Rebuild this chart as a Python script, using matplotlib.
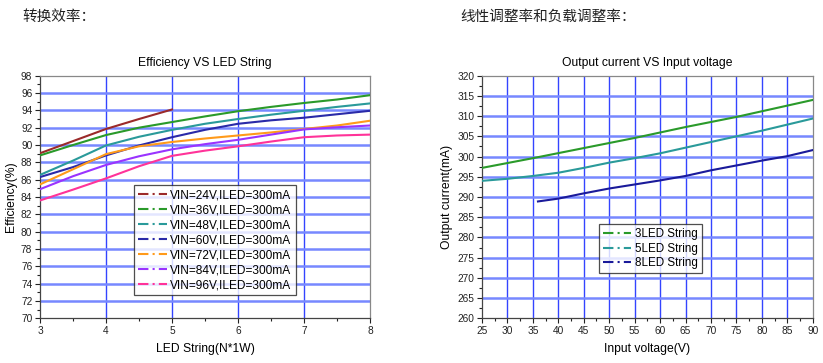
import matplotlib
matplotlib.use("Agg")
import matplotlib.pyplot as plt
from matplotlib.ticker import MultipleLocator

plt.rcParams['font.family'] = ['Liberation Sans', 'Noto Sans CJK SC', 'DejaVu Sans']

# ---- Left chart data: Efficiency vs LED string ----
led_string = [3, 3.5, 4, 4.5, 5, 5.5, 6, 6.5, 7, 7.5, 8]
eff_labels = ["VIN=24V,ILED=300mA", "VIN=36V,ILED=300mA", "VIN=48V,ILED=300mA",
              "VIN=60V,ILED=300mA", "VIN=72V,ILED=300mA", "VIN=84V,ILED=300mA",
              "VIN=96V,ILED=300mA"]
eff_24 = [89.05, 90.45, 91.85, 93.0, 94.1]
eff_36 = [88.8, 90.0, 91.15, 92.0, 92.65, 93.3, 93.9, 94.4, 94.85, 95.25, 95.75]
eff_48 = [86.55, 88.2, 89.95, 90.95, 91.75, 92.45, 93.0, 93.5, 93.95, 94.4, 94.8]
eff_60 = [86.3, 87.45, 88.8, 89.95, 90.9, 91.75, 92.45, 92.85, 93.15, 93.55, 93.95]
eff_72 = [85.45, 87.2, 88.95, 89.85, 90.35, 90.75, 91.1, 91.45, 91.85, 92.25, 92.8]
eff_84 = [84.9, 86.4, 87.7, 88.7, 89.5, 90.1, 90.6, 91.2, 91.8, 92.05, 92.25]
eff_96 = [83.6, 84.85, 86.15, 87.55, 88.75, 89.35, 89.85, 90.4, 90.9, 91.1, 91.2]
eff_colors = ["#9b2a2a", "#2a9a2a", "#2a9a9a", "#2a2aa8", "#ff9a1a", "#9a33ff", "#ff3399"]

# ---- Right chart data: Output current vs input voltage ----
vin_3 = [25, 35, 45, 55, 65, 75, 85, 90]
iout_3 = [297.2, 299.6, 302.1, 304.6, 307.3, 309.8, 312.6, 314.0]
vin_5 = [25, 30, 35, 40, 45, 50, 55, 60, 65, 70, 75, 80, 85, 90]
iout_5 = [294.0, 294.5, 295.2, 296.0, 297.2, 298.5, 299.6, 300.8, 302.2, 303.6,
          305.0, 306.4, 307.9, 309.4]
vin_8 = [36, 40, 45, 50, 55, 60, 65, 70, 75, 80, 85, 90]
iout_8 = [288.9, 289.6, 290.9, 292.1, 293.1, 294.1, 295.2, 296.6, 297.8, 299.0,
          300.1, 301.6]
cur_labels = ["3LED String", "5LED String", "8LED String"]
cur_colors = ["#2a9a2a", "#2a9a9a", "#1a1a9a"]

W, H = 823, 363
fig = plt.figure(figsize=(W / 100, H / 100), dpi=100)

def ax_rect(x0, x1, ytop, ybot):
    return [x0 / W, 1 - ybot / H, (x1 - x0) / W, (ybot - ytop) / H]

def style_axes(ax):
    for s in ax.spines.values():
        s.set_color("#444444")
        s.set_linewidth(0.9)
    ax.spines['top'].set_color("#888888")
    ax.spines['right'].set_color("#888888")
    ax.tick_params(which='both', direction='out', labelsize=7.3, colors='#222222', pad=2)
    ax.tick_params(which='major', length=3.5, width=0.8)
    ax.tick_params(which='minor', length=2, width=0.8)
    ax.grid(False)

def draw_grid(ax, xs, ys):
    for x in xs:
        ax.axvline(x, color="#3344ff", lw=1.0, zorder=0.5)
    for y in ys:
        ax.axhline(y, color="#7788ff", lw=1.8, zorder=0.5)

# Left axes
ax1 = fig.add_axes(ax_rect(40, 370, 75.7, 318.3))
draw_grid(ax1, [4, 5, 6, 7], list(range(72, 98, 2)))
series = [eff_24, eff_36, eff_48, eff_60, eff_72, eff_84, eff_96]
handles = []
for vals, c, lab in zip(series, eff_colors, eff_labels):
    ax1.plot(led_string[:len(vals)], vals, color=c, lw=1.5, zorder=3)
    h, = ax1.plot([], [], color=c, lw=1.5, ls=(0, (5, 2, 1, 2)), label=lab)
    handles.append(h)
ax1.set_xlim(3, 8)
ax1.set_ylim(70, 98)
ax1.xaxis.set_major_locator(MultipleLocator(1))
ax1.xaxis.set_minor_locator(MultipleLocator(0.5))
ax1.yaxis.set_major_locator(MultipleLocator(2))
ax1.yaxis.set_minor_locator(MultipleLocator(1))
style_axes(ax1)
ax1.set_title("Efficiency VS LED String", fontsize=8.7, pad=7)
ax1.set_xlabel("LED String(N*1W)", fontsize=8.7, labelpad=5)
ax1.set_ylabel("Efficiency(%)", fontsize=8.7, labelpad=3)
leg1 = ax1.legend(handles=handles, loc='upper left', bbox_to_anchor=((134 - 40) / 330, (318.3 - 185) / 242.6),
                  fontsize=8.6, frameon=True, fancybox=False, edgecolor='#222222',
                  handlelength=2.4, handletextpad=0.3, labelspacing=0.25,
                  borderpad=0.35, borderaxespad=0)
leg1.get_frame().set_linewidth(0.9)
leg1.set_zorder(5)

# Right axes
ax2 = fig.add_axes(ax_rect(482, 812.7, 75.7, 318.3))
draw_grid(ax2, list(range(30, 90, 5)), list(range(265, 320, 5)))
handles2 = []
for xs, ys, c, lab in zip([vin_3, vin_5, vin_8], [iout_3, iout_5, iout_8], cur_colors, cur_labels):
    ax2.plot(xs, ys, color=c, lw=1.5, zorder=3)
    h, = ax2.plot([], [], color=c, lw=1.5, ls=(0, (5, 2, 1, 2)), label=lab)
    handles2.append(h)
ax2.set_xlim(25, 90)
ax2.set_ylim(260, 320)
ax2.xaxis.set_major_locator(MultipleLocator(5))
ax2.xaxis.set_minor_locator(MultipleLocator(2.5))
ax2.yaxis.set_major_locator(MultipleLocator(5))
ax2.yaxis.set_minor_locator(MultipleLocator(2.5))
style_axes(ax2)
ax2.set_title("Output current VS Input voltage", fontsize=8.7, pad=7)
ax2.set_xlabel("Input voltage(V)", fontsize=8.7, labelpad=5)
ax2.set_ylabel("Output current(mA)", fontsize=8.7, labelpad=3)
leg2 = ax2.legend(handles=handles2, loc='upper left',
                  bbox_to_anchor=((599 - 482) / 330.7, (318.3 - 224) / 242.6),
                  fontsize=8.4, frameon=True, fancybox=False, edgecolor='#222222',
                  handlelength=2.4, handletextpad=0.3, labelspacing=0.22,
                  borderpad=0.35, borderaxespad=0)
leg2.get_frame().set_linewidth(0.9)
leg2.set_zorder(5)

# Chinese headers
fig.text(22 / W, 1 - 17 / H, "转换效率：", fontsize=10.5, va='center', ha='left',
         family=['Noto Sans CJK SC', 'DejaVu Sans'], color='#222222')
fig.text(460 / W, 1 - 17 / H, "线性调整率和负载调整率：", fontsize=10.5, va='center', ha='left',
         family=['Noto Sans CJK SC', 'DejaVu Sans'], color='#222222')

fig.savefig("out.png", dpi=100, facecolor='white')
